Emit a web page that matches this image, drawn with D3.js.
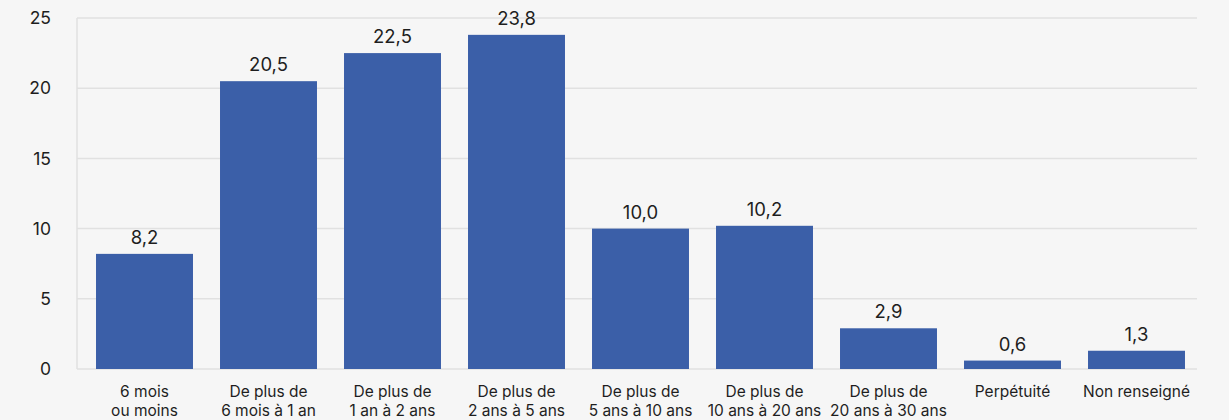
<!DOCTYPE html>
<html>
<head>
<meta charset="utf-8">
<script src="https://cdn.jsdelivr.net/npm/d3@7"></script>
<style>
  body { margin: 0; background: #f6f6f6; }
  svg { display: block; font-family: Inter, "Open Sans", sans-serif; }
</style>
</head>
<body>
<svg id="chart" width="1229" height="420"></svg>
<script>
var categories = [
    ["6 mois", "ou moins"],
    ["De plus de", "6 mois à 1 an"],
    ["De plus de", "1 an à 2 ans"],
    ["De plus de", "2 ans à 5 ans"],
    ["De plus de", "5 ans à 10 ans"],
    ["De plus de", "10 ans à 20 ans"],
    ["De plus de", "20 ans à 30 ans"],
    ["Perpétuité"],
    ["Non renseigné"]
];
var values = [8.2, 20.5, 22.5, 23.8, 10.0, 10.2, 2.9, 0.6, 1.3];
var yTicks = [0, 5, 10, 15, 20, 25];

var svg = d3.select("#chart");
var plotLeft = 77, plotRight = 1197, plotTop = 18, plotBottom = 369;

var x = d3.scaleBand()
    .domain(d3.range(categories.length))
    .range([82.5, 1198.5])
    .paddingInner(0.218)
    .paddingOuter(0.109);

var y = d3.scaleLinear()
    .domain([0, 25])
    .range([plotBottom, plotTop]);

var fmt = function (v) { return d3.format(".1f")(v).replace(".", ","); };

// grid
svg.append("g")
    .selectAll("line")
    .data(yTicks)
    .join("line")
    .attr("x1", plotLeft)
    .attr("x2", plotRight)
    .attr("y1", d => y(d))
    .attr("y2", d => y(d))
    .attr("stroke", "#e1e1e1")
    .attr("stroke-width", 1.5);

svg.append("line")
    .attr("x1", plotLeft).attr("x2", plotLeft)
    .attr("y1", plotTop).attr("y2", plotBottom)
    .attr("stroke", "#e1e1e1")
    .attr("stroke-width", 1.5);

// y labels
svg.append("g")
    .selectAll("text")
    .data(yTicks)
    .join("text")
    .attr("x", 51)
    .attr("y", d => y(d))
    .attr("dy", "0.35em")
    .attr("text-anchor", "end")
    .style("font-size", "17.5px")
    .attr("fill", "#1e1e1e")
    .text(d => d);

// bars
svg.append("g")
    .selectAll("rect")
    .data(values)
    .join("rect")
    .attr("x", (d, i) => x(i))
    .attr("y", d => y(d))
    .attr("width", x.bandwidth())
    .attr("height", d => plotBottom - y(d))
    .attr("fill", "#3b5fa8");

// value labels
svg.append("g")
    .selectAll("text")
    .data(values)
    .join("text")
    .attr("x", (d, i) => x(i) + x.bandwidth() / 2)
    .attr("y", d => y(d) - 10)
    .attr("text-anchor", "middle")
    .style("font-size", "18.5px")
    .attr("fill", "#1e1e1e")
    .text(d => fmt(d));

// category labels
var cat = svg.append("g")
    .selectAll("text")
    .data(categories)
    .join("text")
    .attr("x", (d, i) => x(i) + x.bandwidth() / 2)
    .attr("y", 397)
    .attr("text-anchor", "middle")
    .style("font-size", "15.5px")
    .attr("fill", "#1e1e1e");

cat.selectAll("tspan")
    .data(d => d)
    .join("tspan")
    .attr("x", function () { return d3.select(this.parentNode).attr("x"); })
    .attr("dy", (d, i) => i === 0 ? 0 : 18.5)
    .text(d => d);
</script>
</body>
</html>
